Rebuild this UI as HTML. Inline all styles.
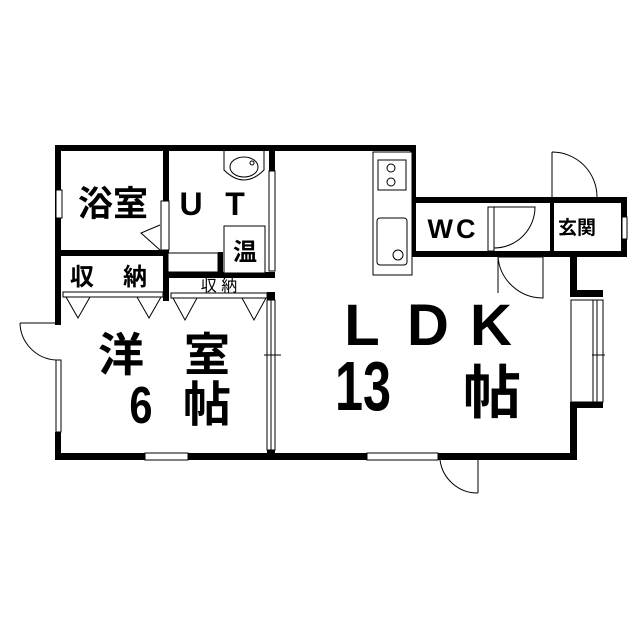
<!DOCTYPE html>
<html><head><meta charset="utf-8"><style>
html,body{margin:0;padding:0;background:#fff;}
svg{display:block}
text{font-family:"Liberation Sans","Noto Sans CJK JP",sans-serif;fill:#000}
.b{font-weight:bold}
</style></head><body>
<svg width="640" height="640" viewBox="0 0 640 640" xmlns="http://www.w3.org/2000/svg">
<g fill="#000">
<rect x="55" y="145" width="361" height="6"/>
<rect x="55" y="145" width="6" height="180"/>
<rect x="55" y="432" width="6" height="28"/>
<rect x="55" y="453" width="522" height="7"/>
<rect x="410" y="145" width="6" height="112"/>
<rect x="410" y="197" width="217" height="6"/>
<rect x="621" y="197" width="6" height="60"/>
<rect x="410" y="251" width="217" height="6"/>
<rect x="550" y="197" width="4" height="60"/>
<rect x="570" y="251" width="7" height="46"/>
<rect x="570" y="290" width="33" height="7"/>
<rect x="570" y="402" width="33" height="6"/>
<rect x="570" y="402" width="7" height="58"/>
<rect x="163" y="151" width="6" height="150"/>
<rect x="61" y="250" width="102" height="6"/>
<rect x="169" y="272" width="106" height="6"/>
<rect x="218" y="252" width="5" height="20"/>
<rect x="269" y="151" width="6" height="20"/>
<rect x="267" y="292" width="8" height="8"/>
<rect x="267" y="450" width="8" height="10"/>
</g>
<g fill="#fff" stroke="#000" stroke-width="1">
<rect x="56" y="190" width="6" height="28"/>
<rect x="161" y="201" width="8" height="49"/>
<rect x="269" y="171" width="6" height="100"/>
<rect x="267" y="300" width="8" height="150"/>
<rect x="56" y="360" width="5" height="72"/>
<rect x="145" y="453" width="43" height="7"/>
<rect x="367" y="453" width="71" height="7"/>
<rect x="571" y="300" width="32" height="102"/>
<rect x="622" y="217" width="5" height="22"/>
<rect x="488" y="207" width="6" height="44"/>
<rect x="224" y="226" width="41" height="47"/>
<rect x="168" y="253" width="50" height="19"/>
<rect x="373" y="152" width="39" height="123"/>
<rect x="378" y="160" width="28" height="30"/>
<rect x="377" y="218" width="30" height="47" rx="3"/>
<rect x="63" y="292" width="100" height="5"/>
<rect x="171" y="293" width="96" height="5"/>
</g>
<g fill="none" stroke="#000" stroke-width="1">
<line x1="593" y1="300" x2="593" y2="402"/><line x1="597" y1="300" x2="597" y2="402"/>
<line x1="271" y1="300" x2="271" y2="450"/>
<line x1="264" y1="355" x2="281" y2="355"/>
<line x1="592" y1="355" x2="605" y2="355"/>
<path d="M160 225 L141 233 L160 250"/>
<path d="M66 297 L78 318 L90 297 M137 297 L149 318 L161 297 M173 298 L185 320 L197 298 M242 298 L254 320 L266 298"/>
<path d="M224 151 V170 Q244 190 264 170 V151"/>
<ellipse cx="244" cy="167" rx="14" ry="10"/>
<circle cx="252" cy="163" r="2"/>
<circle cx="391" cy="168" r="4"/><circle cx="391" cy="182" r="4"/>
<circle cx="398" cy="255" r="5"/>
<path d="M494 207 H535 A41 41 0 0 1 494 248"/>
<path d="M498 257 V293 M498 257 H543 V298 A45 45 0 0 1 498 257"/>
<path d="M552 152 V197 M552 152 A45 45 0 0 1 597 197"/>
<path d="M478 460 V493 M440 460 A38 38 0 0 0 478 493"/>
<line x1="438" y1="457" x2="478" y2="457"/>
<path d="M20 323 H56 M20 323 A38 38 0 0 0 56 360"/>
</g>
<text class="b" x="113" y="216" font-size="35" text-anchor="middle">浴室</text>
<text class="b" x="191" y="215" font-size="32" text-anchor="middle">U</text>
<text class="b" x="235" y="215" font-size="32" text-anchor="middle">T</text>
<text class="b" x="245" y="260" font-size="24" text-anchor="middle">温</text>
<text class="b" x="82" y="285" font-size="24" text-anchor="middle">収</text>
<text class="b" x="135" y="285" font-size="24" text-anchor="middle">納</text>
<text x="219" y="291" font-size="16" text-anchor="middle">収 納</text>
<text class="b" x="453" y="238" font-size="27" text-anchor="middle" letter-spacing="3">WC</text>
<text class="b" x="577" y="234" font-size="19" text-anchor="middle">玄関</text>
<text class="b" x="121" y="371" font-size="46" text-anchor="middle">洋</text>
<text class="b" x="207" y="371" font-size="46" text-anchor="middle">室</text>
<text class="b" x="141" y="423" font-size="52" text-anchor="middle" transform="translate(141 0) scale(0.8 1) translate(-141 0)">6</text>
<text class="b" x="207" y="421" font-size="48" text-anchor="middle">帖</text>
<text class="b" x="362" y="345" font-size="58" text-anchor="middle">L</text>
<text class="b" x="428" y="345" font-size="58" text-anchor="middle">D</text>
<text class="b" x="491" y="345" font-size="58" text-anchor="middle">K</text>
<text class="b" x="363" y="410" font-size="70" text-anchor="middle" transform="translate(363 0) scale(0.72 1) translate(-363 0)">13</text>
<text class="b" x="492" y="413" font-size="58" text-anchor="middle">帖</text>
</svg>
</body></html>
